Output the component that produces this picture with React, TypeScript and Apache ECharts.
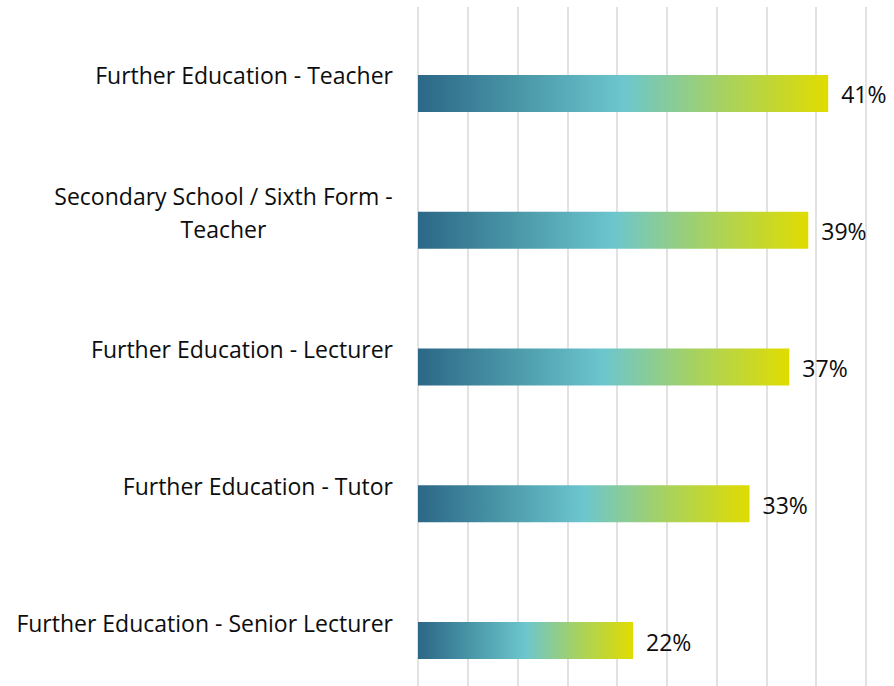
import React, { useEffect, useRef } from "react";
import * as echarts from "echarts";

const categories = [
  "Further Education - Teacher",
  "Secondary School / Sixth Form -\nTeacher",
  "Further Education - Lecturer",
  "Further Education - Tutor",
  "Further Education - Senior Lecturer",
];
const values = [41.2, 39.2, 37.3, 33.3, 21.6];
const valueLabels = ["41%", "39%", "37%", "33%", "22%"];
const axisMin = 0;
const axisMax = 45;
const axisInterval = 5;

const FONT = '"Open Sans", sans-serif';
const FONT_SIZE = 23;
const CHART_H = 720;

function measure(text: string): number {
  const c = document.createElement("canvas");
  const ctx = c.getContext("2d");
  if (!ctx) return text.length * FONT_SIZE * 0.55;
  ctx.font = `${FONT_SIZE}px "Open Sans"`;
  return ctx.measureText(text).width;
}

export default function App() {
  const ref = useRef<HTMLDivElement>(null);
  useEffect(() => {
    if (!ref.current) return;
    const chart = echarts.init(ref.current, null, { renderer: "svg" });
    const gradient = new echarts.graphic.LinearGradient(0, 0, 1, 0, [
      { offset: 0, color: "#2c6787" },
      { offset: 0.25, color: "#4a97a8" },
      { offset: 0.5, color: "#6cc6ce" },
      { offset: 0.75, color: "#a8d25e" },
      { offset: 1, color: "#e0dc00" },
    ]);
    chart.setOption({
      animation: false,
      grid: [
        { left: 418, right: 28, top: 25, height: 684, containLabel: false },
        { left: 418, right: 28, top: 7, bottom: CHART_H - 686, containLabel: false },
      ],
      xAxis: [
        {
          gridIndex: 0,
          type: "value",
          min: axisMin,
          max: axisMax,
          interval: axisInterval,
          show: false,
          splitLine: { show: false },
        },
        {
          gridIndex: 1,
          type: "value",
          min: axisMin,
          max: axisMax,
          interval: axisInterval,
          axisLine: { show: false },
          axisTick: { show: false },
          axisLabel: { show: false },
          splitLine: { show: true, lineStyle: { color: "#d9d9d9", width: 1.5 } },
        },
      ],
      yAxis: [
        {
          gridIndex: 0,
          type: "category",
          data: categories,
          inverse: true,
          axisLine: { show: false },
          axisTick: { show: false },
          splitLine: { show: false },
          axisLabel: {
            margin: 25,
            color: "#0d0d0d",
            fontFamily: FONT,
            fontSize: FONT_SIZE,
            padding: [0, 0, 36, 0],
            formatter: (v: string) => {
              const lines = v.split("\n");
              if (lines.length === 1) return `{r|${v}}`;
              return lines.map((l) => `{c|${l}}`).join("\n");
            },
            rich: {
              r: { fontFamily: FONT, fontSize: FONT_SIZE, color: "#0d0d0d", lineHeight: 33 },
              c: {
                fontFamily: FONT,
                fontSize: FONT_SIZE,
                color: "#0d0d0d",
                lineHeight: 33,
                align: "center",
                width: Math.ceil(
                  Math.max(...categories[1].split("\n").map((l) => measure(l)))
                ),
              },
            },
          },
        },
        {
          gridIndex: 1,
          type: "category",
          data: categories,
          show: false,
        },
      ],
      series: [
        {
          type: "bar",
          xAxisIndex: 0,
          yAxisIndex: 0,
          data: values,
          barWidth: 37,
          itemStyle: { color: gradient },
          label: {
            show: true,
            position: "right",
            distance: 13,
            color: "#0d0d0d",
            fontFamily: FONT,
            fontSize: FONT_SIZE,
            offset: [0, 1],
            formatter: (p: any) => valueLabels[p.dataIndex],
          },
        },
      ],
    });
    return () => chart.dispose();
  }, []);
  return (
    <div
      ref={ref}
      style={{ position: "fixed", left: 0, top: 0, width: 894, height: CHART_H, background: "#fff" }}
    />
  );
}
